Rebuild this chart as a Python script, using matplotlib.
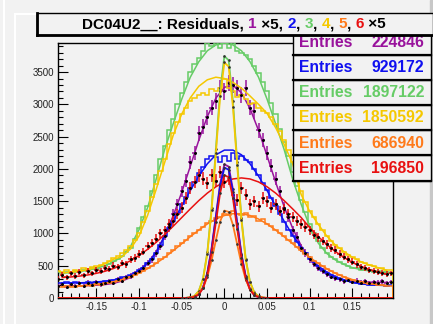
import numpy as np
import matplotlib
matplotlib.use('Agg')
import matplotlib.pyplot as plt
from matplotlib.patches import Rectangle
from matplotlib.lines import Line2D
from matplotlib.ticker import MultipleLocator, FixedLocator

W, H = 433, 324
BG = '#f2f2f2'

# colours of the six planes
PURPLE = '#99139c'
BLUE = '#1010f0'
GREEN = '#66cc66'
YELLOW = '#f5c800'
ORANGE = '#ff7a1a'
RED = '#e81010'

# fitted curves, read every 0.01 from -0.19 to 0.19
x_fit = np.linspace(-0.19, 0.19, 39)
green_fit = [385, 395, 410, 430, 460, 500, 560, 640, 800, 1060, 1400, 1840, 2300, 2700, 3080, 3420, 3660, 3830, 3920,
             3950, 3920, 3830, 3660, 3420, 3080, 2700, 2300, 1840, 1450, 1110, 850, 690, 590, 520, 470, 440, 420, 405, 395]
yellow_fit = [390, 400, 415, 440, 475, 530, 600, 640, 760, 960, 1280, 1680, 2100, 2520, 2850, 3100, 3280, 3380, 3420,
              3400, 3340, 3250, 3130, 3000, 2860, 2640, 2380, 2080, 1600, 1340, 1140, 960, 820, 720, 630, 560, 510, 470, 430]
purple_fit = [185, 187, 189, 192, 198, 208, 228, 262, 318, 407, 536, 718, 964, 1273, 1638, 2039, 2444, 2810, 3096,
              3264, 3294, 3179, 2935, 2597, 2203, 1796, 1414, 1080, 809, 601, 470, 375, 315, 280, 262, 252, 246, 243, 241]
blue_fit = [230, 232, 235, 240, 248, 260, 280, 310, 350, 430, 540, 700, 960, 1190, 1426, 1664, 1889, 2079, 2218,
            2291, 2291, 2218, 2079, 1889, 1664, 1426, 1190, 972, 780, 621, 495, 400, 330, 282, 240, 220, 205, 198, 192]
red_fit = [317, 326, 339, 357, 382, 414, 457, 511, 578, 659, 754, 862, 983, 1112, 1246, 1380, 1509, 1625, 1723,
           1798, 1844, 1860, 1844, 1798, 1723, 1625, 1509, 1380, 1246, 1090, 950, 830, 720, 630, 550, 490, 440, 400, 370]
orange_fit = [176, 179, 185, 194, 207, 225, 251, 285, 329, 385, 454, 536, 629, 731, 840, 949, 1053, 1147, 1223,
              1278, 1306, 1306, 1278, 1223, 1147, 1053, 949, 840, 731, 629, 536, 454, 385, 329, 285, 251, 225, 207, 194]

# histograms, bins of 0.005 centred on -0.195 .. 0.195
x_bins = np.linspace(-0.195, 0.195, 79)
edges = np.linspace(-0.1975, 0.1975, 80)
green_hist = [400, 380, 410, 390, 420, 400, 440, 420, 460, 450, 490, 500, 520, 570, 600, 650, 720, 780, 920, 1080,
              1250, 1430, 1650, 1900, 2150, 2350, 2600, 2780, 3000, 3180, 3350, 3500, 3620, 3720, 3820, 3950, 3900, 3950,
              3880, 3950, 3870, 3950, 3830, 3800, 3760, 3700, 3600, 3480, 3340, 3200, 3020, 2850, 2620, 2420, 2200, 1950,
              1730, 1520, 1330, 1150, 1000, 880, 780, 690, 640, 600, 560, 520, 500, 470, 460, 440, 430, 440, 410, 420,
              400, 410, 390]
yellow_hist = [420, 400, 430, 410, 440, 420, 460, 450, 480, 490, 510, 540, 580, 620, 650, 690, 740, 810, 900, 1010,
               1180, 1350, 1560, 1760, 1960, 2160, 2380, 2560, 2720, 2850, 2950, 3050, 3100, 3150, 3180, 3150, 3230, 3200,
               3250, 3400, 3250, 3200, 3120, 3150, 3080, 3000, 3020, 2950, 2900, 2860, 2800, 2700, 2580, 2450, 2300, 2100,
               1880, 1650, 1480, 1350, 1250, 1150, 1050, 960, 890, 820, 770, 720, 670, 630, 600, 560, 540, 510, 500, 470,
               460, 440, 430]
blue_hist = [240, 225, 245, 230, 250, 225, 240, 245, 230, 255, 250, 265, 270, 285, 300, 320, 330, 360, 390, 430,
             470, 540, 600, 700, 820, 960, 1080, 1200, 1320, 1450, 1570, 1700, 1800, 1930, 2030, 2150, 2200, 2180,
             2100, 2200, 2120, 2250, 2150, 2200, 2130, 2100, 2000, 1900, 1780, 1680, 1550, 1430, 1300, 1180, 1060, 960,
             860, 770, 690, 610, 550, 490, 440, 390, 360, 330, 300, 280, 260, 250, 230, 220, 215, 205, 200, 205,
             195, 190, 200]
orange_hist = [170, 165, 180, 170, 175, 185, 180, 195, 190, 210, 205, 225, 235, 250, 270, 285, 310, 330, 360, 390,
               420, 460, 500, 540, 600, 640, 700, 740, 800, 850, 900, 960, 1000, 1060, 1100, 1160, 1190, 1240,
               1260, 1300, 1280, 1350, 1300, 1290, 1320, 1260, 1270, 1200, 1230, 1150, 1120, 1060, 1010, 960, 900, 850,
               790, 740, 680, 630, 580, 540, 490, 450, 420, 380, 350, 320, 300, 280, 260, 245, 230, 220, 210, 200,
               195, 185, 180]
purple_data = [180, 210, 170, 220, 190, 230, 180, 240, 200, 250, 210, 230, 260, 240, 290, 270, 320, 340, 380, 420,
               470, 540, 600, 690, 800, 960, 1100, 1300, 1450, 1650, 1820, 2100, 2250, 2550, 2650, 2800, 2950, 3050,
               3250, 3200, 3330, 3300, 3250, 3150, 3250, 2950, 2900, 2600, 2450, 2250, 2050, 1850, 1650, 1400, 1250, 1050,
               950, 780, 700, 600, 530, 470, 420, 370, 330, 310, 290, 260, 280, 250, 270, 240, 260, 230, 250, 240,
               260, 230, 250]
red_data = [300, 360, 320, 380, 340, 400, 350, 420, 380, 440, 420, 470, 450, 500, 480, 540, 520, 600, 620, 680,
            720, 800, 850, 920, 1000, 1050, 1150, 1200, 1300, 1400, 1550, 1700, 1800, 1900, 1850, 1780, 1900, 1820,
            1950, 1800, 1850, 1600, 1520, 1700, 1600, 1450, 1500, 1420, 1550, 1500, 1400, 1450, 1350, 1380, 1300, 1250,
            1200, 1150, 1100, 1050, 980, 940, 880, 830, 780, 740, 680, 640, 600, 560, 520, 480, 470, 440, 420, 400,
            390, 370, 380]

# narrow residual peaks, -0.05 .. 0.05 in steps of 0.005
x_narrow = np.linspace(-0.05, 0.05, 21)
purple_narrow = [0, 1, 5, 18, 60, 167, 391, 771, 1274, 1772, 2071, 2035, 1682, 1168, 682, 334, 138, 48, 14, 3, 1]
blue_narrow = [0, 1, 5, 18, 59, 163, 381, 752, 1243, 1730, 2021, 1986, 1642, 1140, 666, 326, 135, 47, 14, 3, 1]
green_narrow = [0, 2, 8, 33, 109, 302, 707, 1395, 2305, 3206, 3747, 3682, 3044, 2113, 1234, 604, 250, 87, 25, 6, 1]
yellow_narrow = [0, 2, 8, 32, 106, 295, 688, 1358, 2244, 3122, 3648, 3585, 2964, 2057, 1201, 588, 243, 84, 24, 6, 1]
orange_narrow = [0, 2, 7, 24, 66, 159, 327, 582, 895, 1185, 1354, 1334, 1134, 831, 525, 286, 134, 55, 19, 6, 1]
red_narrow = [0, 1, 4, 17, 55, 154, 359, 708, 1171, 1628, 1903, 1870, 1546, 1073, 627, 307, 127, 44, 13, 3, 1]

entries = ['224846', '929172', '1897122', '1850592', '686940', '196850']
colours = [PURPLE, BLUE, GREEN, YELLOW, ORANGE, RED]


def fx(x):
    return x / W


def fy(y):
    return 1 - y / H


def main():
    plt.rcParams['font.family'] = ['Liberation Sans', 'DejaVu Sans']
    fig = plt.figure(figsize=(W / 100, H / 100), dpi=100, facecolor=BG)
    ax = fig.add_axes([fx(58), fy(298), (392.5 - 58) / W, (298 - 43) / H])
    ax.set_facecolor(BG)

    lw = 1.1
    ebar = dict(xerr=0.0025, fmt='o', ms=1.1, mfc='k', mec='k', elinewidth=1.1, capsize=0, zorder=3)
    # broad distributions, drawn in plane order
    ax.errorbar(x_bins, purple_data, yerr=np.sqrt(5 * np.array(purple_data)), ecolor=PURPLE, **ebar)
    ax.plot(x_fit, purple_fit, color=PURPLE, lw=lw, zorder=3)
    ax.stairs(blue_hist, edges, color=BLUE, lw=lw, zorder=3)
    ax.plot(x_fit, blue_fit, color=BLUE, lw=lw, zorder=3)
    ax.stairs(green_hist, edges, color=GREEN, lw=lw, zorder=3)
    ax.plot(x_fit, green_fit, color=GREEN, lw=lw, zorder=3)
    ax.stairs(yellow_hist, edges, color=YELLOW, lw=lw, zorder=3)
    ax.plot(x_fit, yellow_fit, color=YELLOW, lw=lw, zorder=3)
    ax.stairs(orange_hist, edges, color=ORANGE, lw=lw, zorder=3)
    ax.plot(x_fit, orange_fit, color=ORANGE, lw=lw, zorder=3)
    ax.errorbar(x_bins, red_data, yerr=np.sqrt(5 * np.array(red_data)), ecolor=RED, **ebar)
    ax.plot(x_fit, red_fit, color=RED, lw=lw, zorder=3)

    # narrow peaks, flat at zero outside +-0.05
    for vals, c in [(purple_narrow, PURPLE), (blue_narrow, BLUE), (green_narrow, GREEN),
                    (yellow_narrow, YELLOW), (orange_narrow, ORANGE), (red_narrow, RED)]:
        xs = np.concatenate(([-0.197], x_narrow, [0.197]))
        ys = np.concatenate(([0], vals, [0]))
        ax.plot(xs, ys, color=c, lw=1.3, zorder=4)
        ax.plot(x_narrow, vals, 'o', ms=0.9, color='#333333', zorder=4)

    ax.set_xlim(-0.195, 0.197)
    ax.set_ylim(0, 3950)
    ax.yaxis.set_major_locator(FixedLocator([0, 500, 1000, 1500, 2000, 2500, 3000, 3500]))
    ax.yaxis.set_minor_locator(MultipleLocator(100))
    ax.xaxis.set_major_locator(FixedLocator([-0.15, -0.1, -0.05, 0, 0.05, 0.1, 0.15]))
    ax.xaxis.set_minor_locator(MultipleLocator(0.01))
    ax.set_xticklabels(['-0.15', '-0.1', '-0.05', '0', '0.05', '0.1', '0.15'])
    ax.tick_params(which='both', direction='in', top=False, right=False, labelsize=7,
                   labelcolor='#222222', width=0.8)
    ax.tick_params(which='major', length=7, pad=3)
    ax.tick_params(which='minor', length=3.5)
    for s in ax.spines.values():
        s.set_linewidth(1.0)

    # canvas bevel
    fig.add_artist(Line2D([fx(4), fx(4)], [0, 1], color='white', lw=1.5, transform=fig.transFigure))
    fig.add_artist(Line2D([fx(15), fx(15)], [0, fy(14)], color='white', lw=1.5, transform=fig.transFigure))
    fig.add_artist(Line2D([fx(15), fx(431)], [fy(14), fy(14)], color='white', lw=1.5, transform=fig.transFigure))
    fig.add_artist(Rectangle((fx(430), 0), 3 / W, 1, color='#c8c8c8', transform=fig.transFigure))

    # stats boxes
    tops = [29, 54.5, 79.5, 104.8, 130, 155]
    for i, (n, c) in enumerate(zip(entries, colours)):
        y0 = tops[i]
        y1 = tops[i + 1] if i + 1 < len(tops) else 180.5
        fig.add_artist(Rectangle((fx(292.5), fy(y1)), (431 - 292.5) / W, (y1 - y0) / H,
                                 facecolor=BG, edgecolor='black', lw=1.0, transform=fig.transFigure, zorder=5))
        fig.add_artist(Line2D([fx(292.5), fx(431)], [fy(y1), fy(y1)], color='black', lw=1.6,
                              transform=fig.transFigure, zorder=6))
        yc = (y0 + y1) / 2 + 0.5
        fig.text(fx(299), fy(yc), 'Entries', color=c, fontsize=11.3, fontweight='bold',
                 ha='left', va='center', zorder=7)
        fig.text(fx(424), fy(yc), n, color=c, fontsize=11.3, fontweight='bold',
                 ha='right', va='center', zorder=7)

    # title box
    fig.add_artist(Rectangle((fx(37), fy(35)), (433 - 37) / W, 22 / H, facecolor=BG,
                             edgecolor='black', lw=1.0, transform=fig.transFigure, zorder=8))
    fig.add_artist(Line2D([fx(37), fx(37)], [fy(35), fy(13)], color='black', lw=2.0,
                          transform=fig.transFigure, zorder=9))
    fig.add_artist(Line2D([fx(37), fx(433)], [fy(35), fy(35)], color='black', lw=2.0,
                          transform=fig.transFigure, zorder=9))

    pieces = [('DC04U2__: Residuals, ', 'black'), ('1', PURPLE), (' \u00d75, ', 'black'), ('2', BLUE),
              (', ', 'black'), ('3', GREEN), (', ', 'black'), ('4', YELLOW), (', ', 'black'),
              ('5', ORANGE), (', ', 'black'), ('6', RED), (' \u00d75', 'black')]
    r = fig.canvas.get_renderer()
    kw = dict(fontsize=11, fontweight='bold', va='center', ha='left', zorder=10)

    def width(s):
        t = fig.text(0, 0, s, **kw)
        w = t.get_window_extent(r).width
        t.remove()
        return w

    full = ''.join(p for p, _ in pieces)
    wx = width('X')
    total = width(full)
    x0 = 234 - total / 2
    prefix = ''
    for s, c in pieces:
        off = width(prefix + 'X') - wx if prefix else 0
        fig.text(fx(x0 + off), fy(24.5), s, color=c, **kw)
        prefix += s

    plt.savefig('out.png', dpi=100, facecolor=BG)


if __name__ == '__main__':
    main()
